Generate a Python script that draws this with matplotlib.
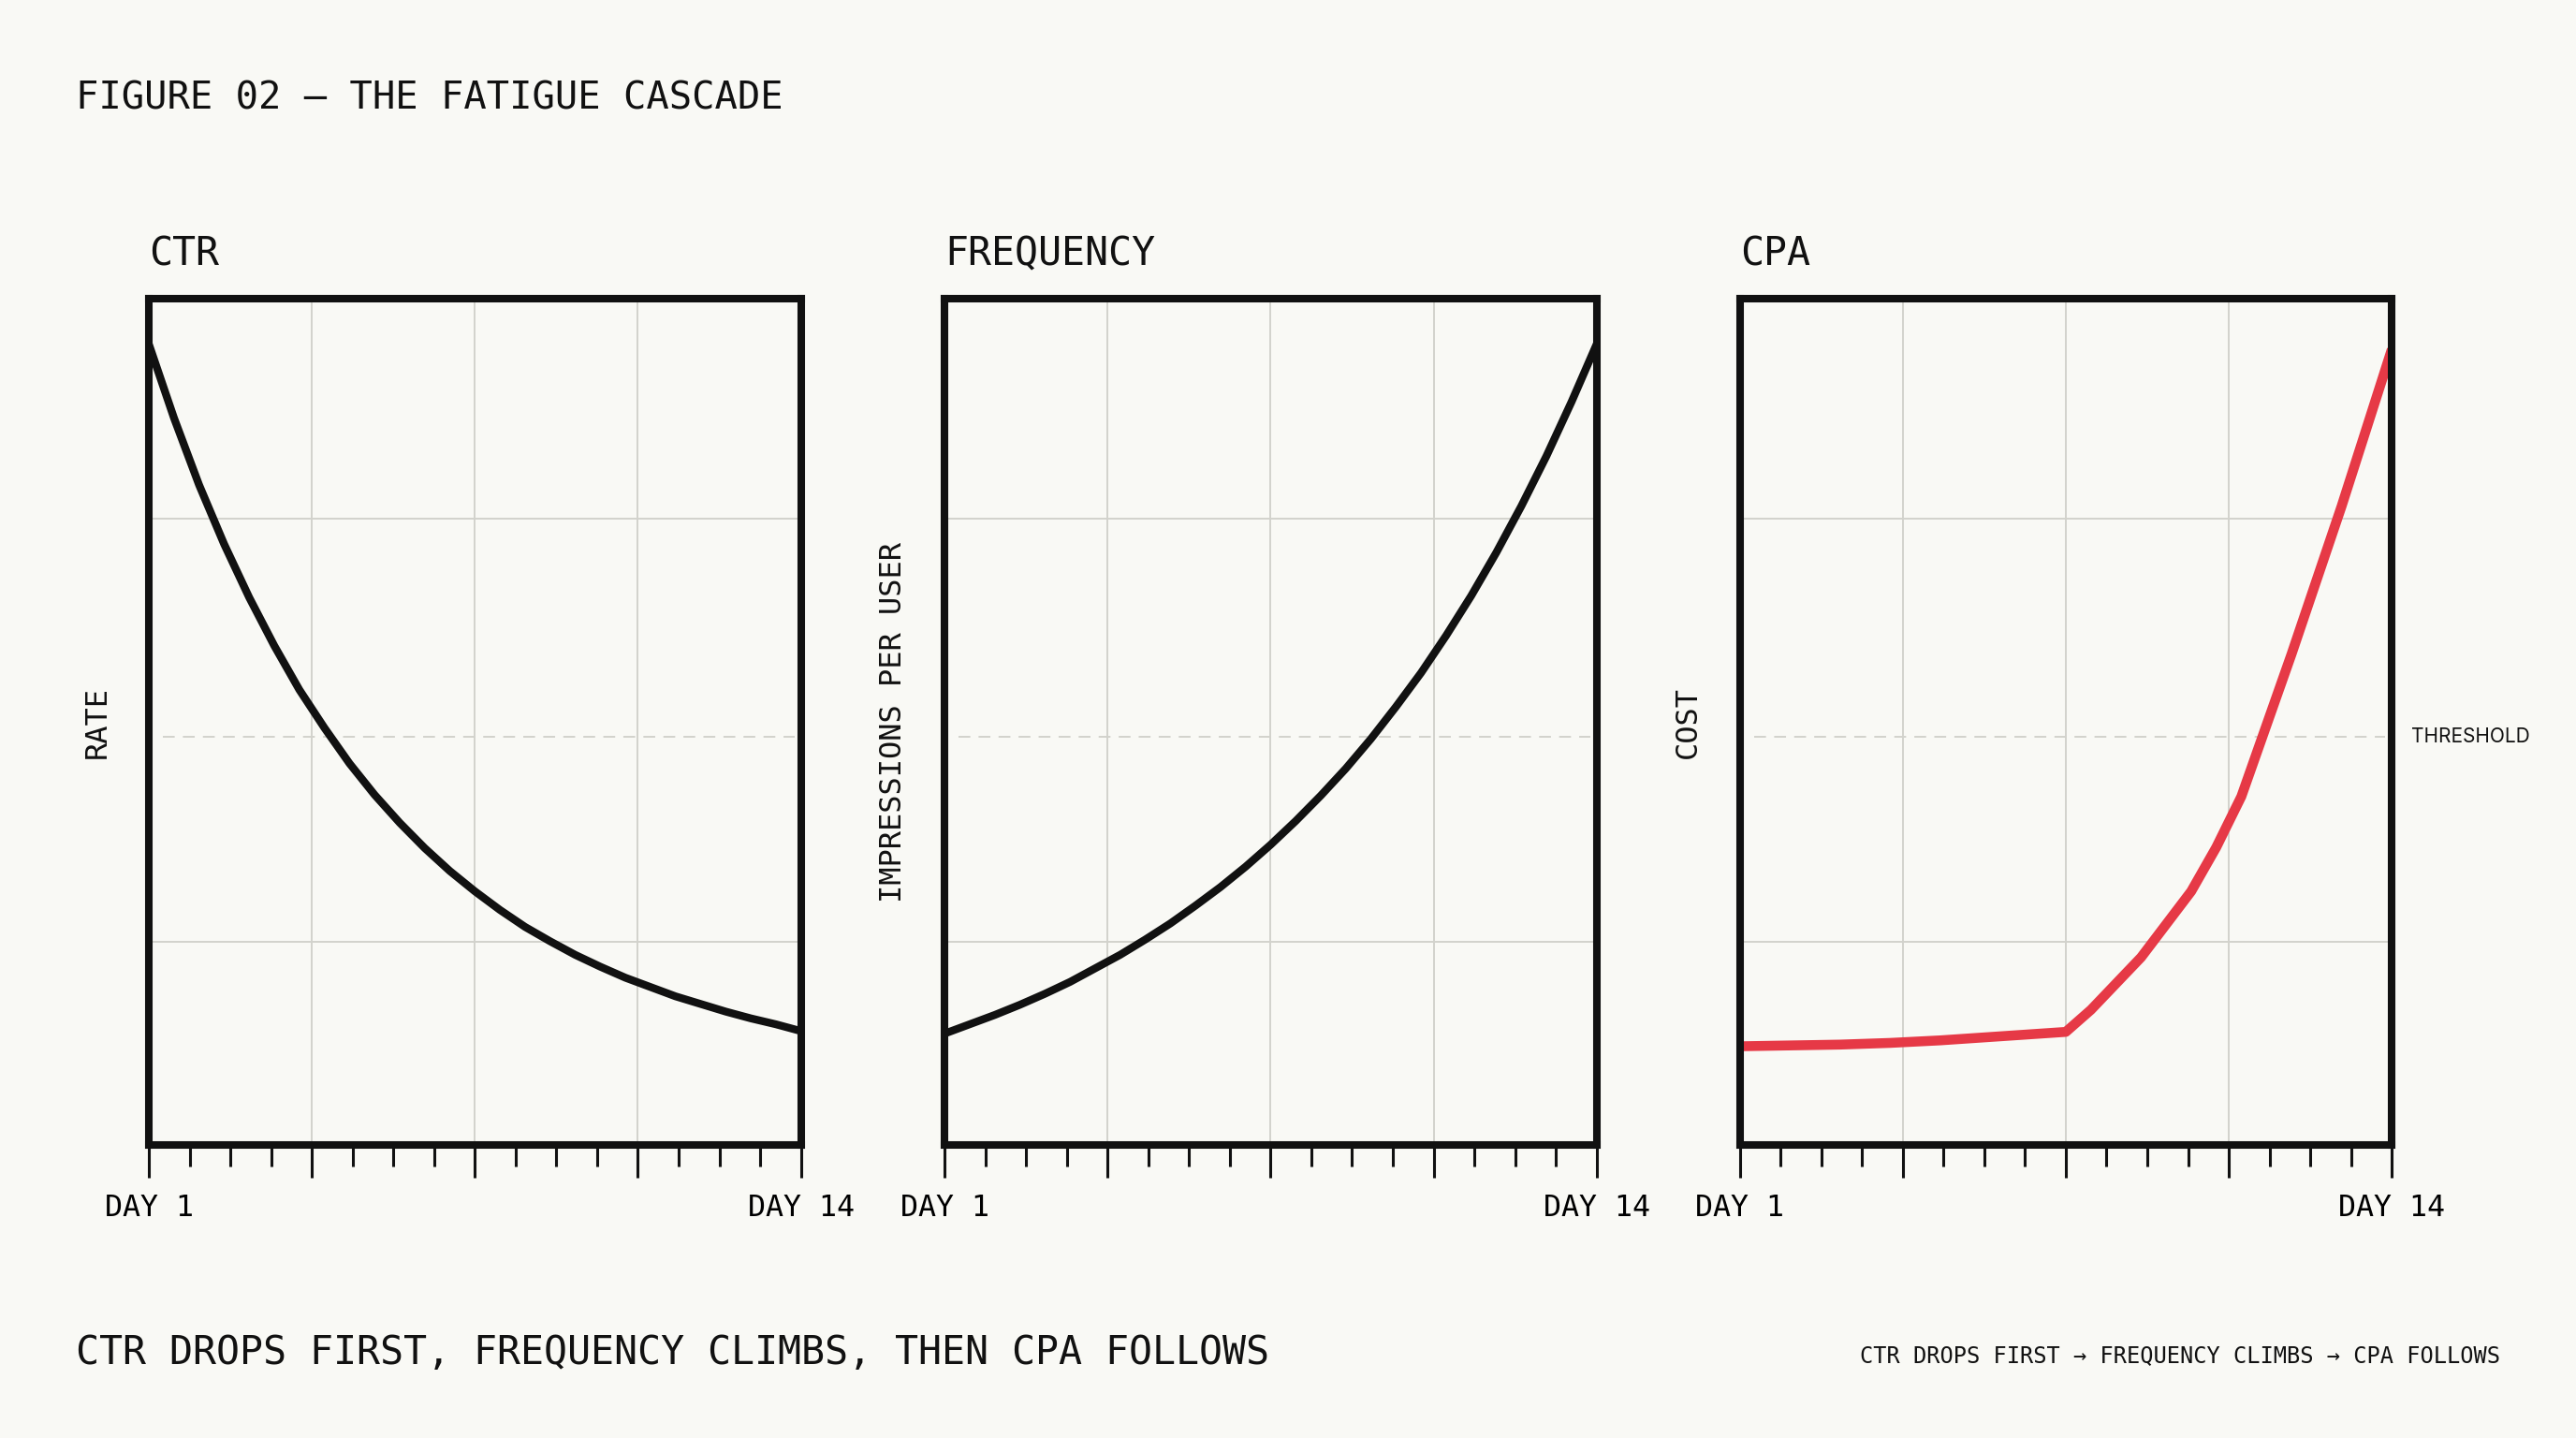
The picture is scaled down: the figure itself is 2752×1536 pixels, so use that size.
import numpy as np
import matplotlib.pyplot as plt
from matplotlib.transforms import blended_transform_factory

# values (y as share of panel height)
days = np.arange(1, 14.01, 0.5)
ctr = [0.946, 0.859, 0.780, 0.710, 0.647, 0.590, 0.538, 0.493, 0.451, 0.414,
       0.381, 0.351, 0.324, 0.300, 0.278, 0.258, 0.241, 0.225, 0.211, 0.198,
       0.187, 0.176, 0.167, 0.158, 0.150, 0.143, 0.135]
freq = [0.132, 0.143, 0.154, 0.166, 0.179, 0.193, 0.209, 0.225, 0.243, 0.262,
        0.283, 0.305, 0.329, 0.355, 0.383, 0.413, 0.445, 0.480, 0.518, 0.558,
        0.602, 0.649, 0.700, 0.755, 0.814, 0.878, 0.946]
cpa_days = [1, 2, 3, 4, 5, 6, 7, 7.5, 8, 9, 10, 10.5, 11, 12, 13, 14]
cpa = [0.117, 0.118, 0.119, 0.121, 0.124, 0.128, 0.132, 0.134, 0.160, 0.222,
       0.300, 0.352, 0.412, 0.580, 0.755, 0.940]

titles = ['CTR', 'FREQUENCY', 'CPA']
ylabels = ['RATE', 'IMPRESSIONS PER USER', 'COST']
day_labels = ['DAY 1', '', '', '', 'DAY 14']
threshold = 0.482
grid_y = [0.24, 0.74]

bg = '#f9f9f5'
ink = '#111111'
grid_c = '#d2d2cc'
red = '#e63946'
mono = ['DejaVu Sans Mono']

plt.rcParams['font.family'] = mono

fig = plt.figure(figsize=(13.76, 7.68), dpi=200, facecolor=bg)

lefts = [0.0578, 0.3667, 0.6754]
series = [(days, ctr, ink, 3.0), (days, freq, ink, 3.0), (cpa_days, cpa, red, 3.8)]

major = np.linspace(1, 14, 5)
minor = np.linspace(1, 14, 17)

for i, left in enumerate(lefts):
    ax = fig.add_axes([left, 0.2035, 0.2531, 0.5889])
    ax.set_facecolor(bg)
    x, y, c, lw = series[i]
    ax.plot(x, y, color=c, lw=lw, solid_capstyle='butt', solid_joinstyle='round', zorder=3)

    ax.set_xlim(1, 14)
    ax.set_ylim(0, 1)

    for gx in major[1:-1]:
        ax.axvline(gx, color=grid_c, lw=0.7, zorder=1)
    for gy in grid_y:
        ax.axhline(gy, color=grid_c, lw=0.7, zorder=1)
    dash = ax.axhline(threshold, xmin=0.022, xmax=0.99, color=grid_c, lw=0.7, zorder=1)
    dash.set_dashes([6.5, 4.5])

    for s in ax.spines.values():
        s.set_linewidth(2.9)
        s.set_color(ink)
        s.set_capstyle('projecting')
        s.set_zorder(4)

    ax.set_yticks([])
    ax.set_xticks(major, day_labels)
    ax.set_xticks(np.setdiff1d(minor, major), minor=True)
    ax.tick_params(axis='x', which='major', length=12.6, width=1.1, color=ink,
                   pad=6, labelsize=11.4)
    ax.tick_params(axis='x', which='minor', length=8.3, width=1.1, color=ink)

    ax.text(0, 1.052, titles[i], transform=ax.transAxes, fontsize=15,
            ha='left', va='center', color=ink)
    ax.text(-0.079, 0.5, ylabels[i], transform=ax.transAxes, fontsize=11.5,
            rotation=90, ha='center', va='center', color=ink)

    if i == 2:
        tr = blended_transform_factory(ax.transAxes, ax.transData)
        ax.text(1.03, threshold, 'THRESHOLD', transform=tr, fontsize=7.5,
                family=['Inter', 'DejaVu Sans'], ha='left', va='center', color=ink)

fig.text(0.0293, 0.9314, 'FIGURE 02 — THE FATIGUE CASCADE', fontsize=14.6,
         ha='left', va='center', color=ink)
fig.text(0.0293, 0.0595, 'CTR DROPS FIRST, FREQUENCY CLIMBS, THEN CPA FOLLOWS',
         fontsize=15.0, ha='left', va='center', color=ink)
fig.text(0.9706, 0.0575, 'CTR DROPS FIRST → FREQUENCY CLIMBS → CPA FOLLOWS',
         fontsize=8.5, ha='right', va='center', color=ink)

fig.savefig('out.png', dpi=200, facecolor=bg)
